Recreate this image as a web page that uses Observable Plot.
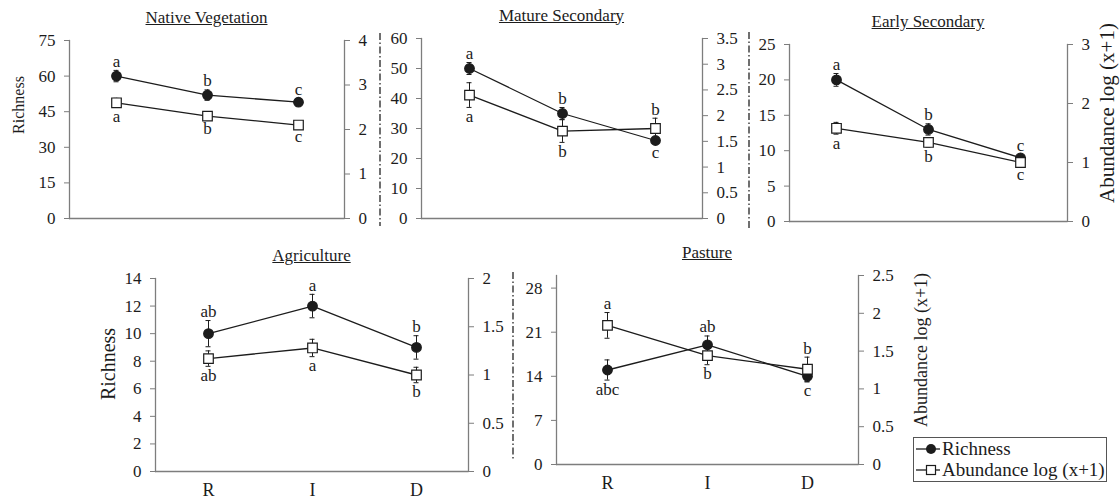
<!DOCTYPE html>
<html>
<head>
<meta charset="utf-8">
<script src="https://cdn.jsdelivr.net/npm/d3@7"></script>
<script src="https://cdn.jsdelivr.net/npm/@observablehq/plot@0.6"></script>
<style>
  body { margin: 0; background: #fff; }
  #fig { position: relative; width: 1120px; height: 503px; overflow: hidden;
         font-family: "Liberation Serif", "Times New Roman", serif; color: #1c1c1c; }
  #fig svg text { font-family: "Liberation Serif", "Times New Roman", serif; }
  .title { position: absolute; font-size: 17px; line-height: 20px; font-weight: 400;
           text-decoration: underline; transform: translateX(-50%); white-space: nowrap; }
  .ylab { position: absolute; line-height: 1; white-space: nowrap;
          transform: translate(-50%, -50%) rotate(-90deg); }
  .layer { position: absolute; overflow: visible; }
  #legend { position: absolute; left: 913px; top: 437px; width: 192px; height: 43px;
            border: 1px solid #555; font-size: 19px; line-height: 22px; background: #fff; }
  #legend .row { display: flex; align-items: center; height: 21px; white-space: nowrap; }
  #legend svg { flex: none; }
</style>
</head>
<body>
<div id="fig"></div>
<script>
// Sampling position along the gradient
const sites = ["R", "I", "D"];

// Native Vegetation
const nativeRichness = [60, 52, 49];
const nativeRichnessErr = [2.4, 2.2, 1.6];
const nativeAbundance = [2.6, 2.3, 2.1];
const nativeAbundanceErr = [0.1, 0.07, 0.06];
const nativeRichnessLetters = ["a", "b", "c"];
const nativeAbundanceLetters = ["a", "b", "c"];

// Mature Secondary
const matureRichness = [50, 35, 26];
const matureRichnessErr = [2, 2, 1];
const matureAbundance = [2.4, 1.7, 1.75];
const matureAbundanceErr = [0.24, 0.22, 0.2];
const matureRichnessLetters = ["a", "b", "c"];
const matureAbundanceLetters = ["a", "b", "b"];

// Early Secondary
const earlyRichness = [20, 13, 9];
const earlyRichnessErr = [0.9, 0.8, 0.4];
const earlyAbundance = [1.58, 1.34, 1.0];
const earlyAbundanceErr = [0.1, 0.08, 0.05];
const earlyRichnessLetters = ["a", "b", "c"];
const earlyAbundanceLetters = ["a", "b", "c"];

// Agriculture
const agriRichness = [10, 12, 9];
const agriRichnessErr = [0.95, 0.85, 0.85];
const agriAbundance = [1.17, 1.28, 1.0];
const agriAbundanceErr = [0.08, 0.09, 0.08];
const agriRichnessLetters = ["ab", "a", "b"];
const agriAbundanceLetters = ["ab", "a", "b"];

// Pasture
const pastureRichness = [15, 19, 14];
const pastureRichnessErr = [1.6, 1.4, 0.9];
const pastureAbundance = [1.84, 1.44, 1.26];
const pastureAbundanceErr = [0.17, 0.12, 0.16];
const pastureRichnessLetters = ["abc", "ab", "c"];
const pastureAbundanceLetters = ["a", "b", "b"];

// Axis ticks
const nativeRichnessTicks = [0, 15, 30, 45, 60, 75];
const nativeAbundanceTicks = [0, 1, 2, 3, 4];
const matureRichnessTicks = [0, 10, 20, 30, 40, 50, 60];
const matureAbundanceTicks = [0, 0.5, 1, 1.5, 2, 2.5, 3, 3.5];
const earlyRichnessTicks = [0, 5, 10, 15, 20, 25];
const earlyAbundanceTicks = [0, 1, 2, 3];
const agriRichnessTicks = [0, 2, 4, 6, 8, 10, 12, 14];
const agriAbundanceTicks = [0, 0.5, 1, 1.5, 2];
const pastureRichnessTicks = [0, 7, 14, 21, 28];
const pastureAbundanceTicks = [0, 0.5, 1, 1.5, 2, 2.5];

const FONT = '"Liberation Serif", "Times New Roman", serif';
const AXIS = "#7d7d7d";
const INK = "#1c1c1c";
const fmt = d => String(d);

// Panel layout: frame edges in page pixels, scale domains and side of each letter
const panels = [
  {title: "Native Vegetation", L: 69, R: 344, T: 40, B: 218,
   rich: nativeRichness, richErr: nativeRichnessErr, richLet: nativeRichnessLetters,
   ab: nativeAbundance, abErr: nativeAbundanceErr, abLet: nativeAbundanceLetters,
   richMax: 75, abMax: 4, richTicks: nativeRichnessTicks, abTicks: nativeAbundanceTicks,
   richSide: ["above", "above", "above"], abSide: ["below", "below", "below"],
   yLabels: [{text: "Richness", x: 19, y: 105, size: 16}], xAxis: false},
  {title: "Mature Secondary", L: 421, R: 702, T: 37.5, B: 217.5,
   rich: matureRichness, richErr: matureRichnessErr, richLet: matureRichnessLetters,
   ab: matureAbundance, abErr: matureAbundanceErr, abLet: matureAbundanceLetters,
   richMax: 60, abMax: 3.5, richTicks: matureRichnessTicks, abTicks: matureAbundanceTicks,
   richSide: ["above", "above", "below"], abSide: ["below", "below", "above"], yLabels: [], xAxis: false},
  {title: "Early Secondary", L: 789, R: 1067, T: 44, B: 221,
   rich: earlyRichness, richErr: earlyRichnessErr, richLet: earlyRichnessLetters,
   ab: earlyAbundance, abErr: earlyAbundanceErr, abLet: earlyAbundanceLetters,
   richMax: 25, abMax: 3, richTicks: earlyRichnessTicks, abTicks: earlyAbundanceTicks,
   richSide: ["above", "above", "above"], abSide: ["below", "below", "below"],
   yLabels: [{text: "Abundance log (x+1)", x: 1107, y: 113, size: 21}], xAxis: false},
  {title: "Agriculture", L: 155, R: 468, T: 278, B: 471,
   rich: agriRichness, richErr: agriRichnessErr, richLet: agriRichnessLetters,
   ab: agriAbundance, abErr: agriAbundanceErr, abLet: agriAbundanceLetters,
   richMax: 14, abMax: 2, richTicks: agriRichnessTicks, abTicks: agriAbundanceTicks,
   richSide: ["above", "above", "above"], abSide: ["below", "below", "below"],
   yLabels: [{text: "Richness", x: 108, y: 364, size: 20}], xAxis: true},
  {title: "Pasture", L: 556, R: 858, T: 275, B: 464,
   rich: pastureRichness, richErr: pastureRichnessErr, richLet: pastureRichnessLetters,
   ab: pastureAbundance, abErr: pastureAbundanceErr, abLet: pastureAbundanceLetters,
   richMax: 30, abMax: 2.5, richTicks: pastureRichnessTicks, abTicks: pastureAbundanceTicks,
   richSide: ["below", "above", "below"], abSide: ["above", "below", "above"],
   yLabels: [{text: "Abundance log (x+1)", x: 921, y: 350, size: 18}], xAxis: true}
];

const fig = document.getElementById("fig");
const ML = 70, MR = 80, MT = 30, MB = 40;

function rows(values, errs, letters, sides) {
  return sites.map((s, i) => ({site: s, v: values[i], e: errs[i], lab: letters[i], side: sides[i]}));
}

// Error bar, letters, connecting line and markers for one series
function seriesMarks(data, symbol, r, fill) {
  return [
    Plot.ruleX(data, {x: "site", y1: d => d.v - d.e, y2: d => d.v + d.e, stroke: INK, strokeWidth: 1}),
    Plot.ruleY(data, {x1: "site", x2: "site", y: d => d.v - d.e, insetLeft: -2.5, insetRight: -2.5, stroke: INK}),
    Plot.ruleY(data, {x1: "site", x2: "site", y: d => d.v + d.e, insetLeft: -2.5, insetRight: -2.5, stroke: INK}),
    Plot.line(data, {x: "site", y: "v", stroke: INK, strokeWidth: 1.3}),
    Plot.dot(data, {x: "site", y: "v", symbol, r, fill, stroke: INK, strokeWidth: 1.2}),
    Plot.text(data.filter(d => d.side === "above"), {x: "site", y: d => d.v + d.e, text: "lab",
      dy: -9, fontSize: 17, fill: INK}),
    Plot.text(data.filter(d => d.side === "below"), {x: "site", y: d => d.v - d.e, text: "lab",
      dy: 9, fontSize: 17, fill: INK})
  ];
}

function place(svg, p) {
  svg.classList.add("layer");
  svg.style.left = (p.L - ML) + "px";
  svg.style.top = (p.T - MT) + "px";
  fig.appendChild(svg);
}

for (const p of panels) {
  const width = (p.R - p.L) + ML + MR;
  const height = (p.B - p.T) + MT + MB;
  const common = {
    width, height, marginLeft: ML, marginRight: MR, marginTop: MT, marginBottom: MB,
    style: {"font-family": FONT, "color": INK, "background": "transparent", "overflow": "visible"},
    x: {type: "point", domain: sites, padding: 0.5, axis: null}
  };

  // Richness layer with the left axis
  const richData = rows(p.rich, p.richErr, p.richLet, p.richSide);
  const left = Plot.plot({
    ...common,
    y: {domain: [0, p.richMax]},
    marks: [
      Plot.frame({anchor: "left", stroke: AXIS, strokeWidth: 1.3}),
      Plot.ruleY([0], {stroke: AXIS, strokeWidth: 1.3}),
      Plot.axisY({anchor: "left", ticks: p.richTicks, tickFormat: fmt, tickSize: 5, tickPadding: 9,
        stroke: AXIS, fill: INK, fontSize: 17, label: null}),
      p.xAxis ? Plot.axisX({anchor: "bottom", tickSize: 0, tickPadding: 12, fontSize: 18,
        fill: INK, label: null}) : null,
      ...seriesMarks(richData, "circle", 4.8, INK)
    ]
  });
  place(left, p);

  // Abundance layer with the right axis
  const abData = rows(p.ab, p.abErr, p.abLet, p.abSide);
  const right = Plot.plot({
    ...common,
    y: {domain: [0, p.abMax]},
    marks: [
      Plot.frame({anchor: "right", stroke: AXIS, strokeWidth: 1.3}),
      Plot.axisY({anchor: "right", ticks: p.abTicks, tickFormat: fmt, tickSize: 5, tickPadding: 9,
        stroke: AXIS, fill: INK, fontSize: 17, label: null}),
      ...seriesMarks(abData, "square", 5.4, "white")
    ]
  });
  place(right, p);

  const t = document.createElement("div");
  t.className = "title";
  t.textContent = p.title;
  t.style.left = ((p.L + p.R) / 2) + "px";
  t.style.top = (p.T - 32) + "px";
  fig.appendChild(t);

  for (const lab of p.yLabels) {
    const d = document.createElement("div");
    d.className = "ylab";
    d.textContent = lab.text;
    d.style.left = lab.x + "px";
    d.style.top = lab.y + "px";
    d.style.fontSize = lab.size + "px";
    fig.appendChild(d);
  }
}

// Dash-dot separators between panels
const sepNS = "http://www.w3.org/2000/svg";
const sep = document.createElementNS(sepNS, "svg");
sep.setAttribute("width", 1120);
sep.setAttribute("height", 503);
sep.style.position = "absolute";
sep.style.left = "0px";
sep.style.top = "0px";
for (const [x, y1, y2] of [[380, 33, 226], [749, 32, 230], [513, 272, 461]]) {
  const l = document.createElementNS(sepNS, "line");
  l.setAttribute("x1", x); l.setAttribute("x2", x);
  l.setAttribute("y1", y1); l.setAttribute("y2", y2);
  l.setAttribute("stroke", "#333");
  l.setAttribute("stroke-width", 1.4);
  l.setAttribute("stroke-dasharray", "7 2.5 1.5 2.5");
  sep.appendChild(l);
}
fig.appendChild(sep);

// Legend
const legend = document.createElement("div");
legend.id = "legend";
legend.innerHTML = `
  <div class="row"><svg width="28" height="20"><line x1="2" x2="26" y1="10" y2="10" stroke="${INK}" stroke-width="1.3"/>
    <circle cx="17" cy="10" r="5" fill="${INK}"/></svg><span>Richness</span></div>
  <div class="row"><svg width="28" height="20"><line x1="2" x2="26" y1="10" y2="10" stroke="${INK}" stroke-width="1.3"/>
    <rect x="12.5" y="5.5" width="9" height="9" fill="white" stroke="${INK}" stroke-width="1.2"/></svg><span>Abundance log (x+1)</span></div>`;
fig.appendChild(legend);
</script>
</body>
</html>
